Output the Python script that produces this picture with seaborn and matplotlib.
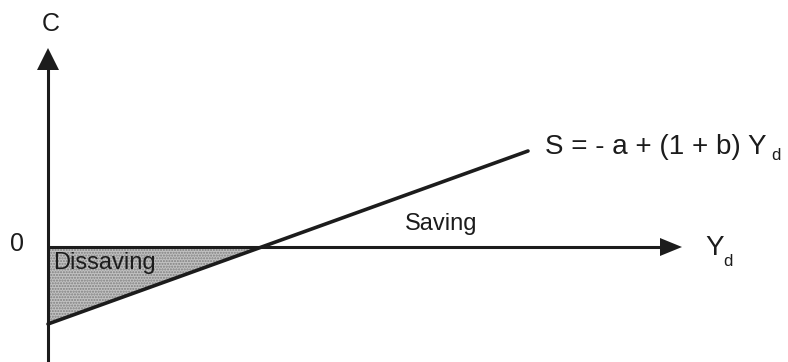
import numpy as np
import pandas as pd
import matplotlib
matplotlib.use("Agg")
import matplotlib.pyplot as plt
import seaborn as sns

# Saving function S = -a + (1 + b) Yd, drawn in screen-like units
yd_values = [0, 480]          # disposable income range
saving_values = [-77, 96]     # saving at each end of the range
y_axis_top = 199              # tip of the C axis
y_axis_bottom = -115
x_axis_right = 634            # tip of the Yd axis

sns.set_theme(style="white")
plt.rcParams["font.family"] = ["Liberation Sans", "DejaVu Sans"]
plt.rcParams["hatch.linewidth"] = 1.0

fig = plt.figure(figsize=(7.88, 3.62), dpi=100)
ax = fig.add_axes([0, 0, 1, 1])

ink = "#1c1c1c"
df = pd.DataFrame({"Yd": yd_values, "S": saving_values})

# Dissaving region: between the saving line and zero, left of the break-even point
slope = (saving_values[1] - saving_values[0]) / (yd_values[1] - yd_values[0])
break_even = -saving_values[0] / slope
xs = np.array([0, break_even])
ax.fill_between(xs, saving_values[0] + slope * xs, 0,
                facecolor="#c2c2c2", edgecolor="#7f7f7f", hatch="......",
                linewidth=0, zorder=1)

# Axes with arrowheads
ax.plot([0, 0], [y_axis_bottom, y_axis_top - 20], color=ink, lw=2.2, zorder=3,
        solid_capstyle="butt")
ax.fill([-11, 11, 0], [y_axis_top - 22, y_axis_top - 22, y_axis_top],
        color=ink, zorder=3, lw=0)
ax.plot([0, x_axis_right - 20], [0, 0], color=ink, lw=2.2, zorder=3,
        solid_capstyle="butt")
ax.fill([x_axis_right - 22, x_axis_right - 22, x_axis_right], [9, -9, 0],
        color=ink, zorder=3, lw=0)

# Saving line
sns.lineplot(data=df, x="Yd", y="S", ax=ax, color=ink, lw=2.6, zorder=4)
ax.set_xlim(-48, 740)
ax.set_ylim(-115, 247)
ax.set_axis_off()

# Labels
ax.text(3, 223, "C", fontsize=18, ha="center", va="center", color=ink)
ax.text(-31, 3, "0", fontsize=18, ha="center", va="center", color=ink)
ax.text(657, -1, "Y", fontsize=20, ha="left", va="center", color=ink)
ax.text(675, -14, "d", fontsize=12, ha="left", va="center", color=ink)
ax.text(357, 23, "Saving", fontsize=17, ha="left", va="center", color=ink)
ax.text(5, -16, "Dissaving", fontsize=17, ha="left", va="center", color=ink,
        zorder=5)
ax.text(497, 100, "S = - a + (1 + b) Y", fontsize=20, ha="left",
        va="center", color=ink)
ax.text(723, 91, "d", fontsize=12, ha="left", va="center", color=ink)

fig.savefig("out.png", dpi=100)
